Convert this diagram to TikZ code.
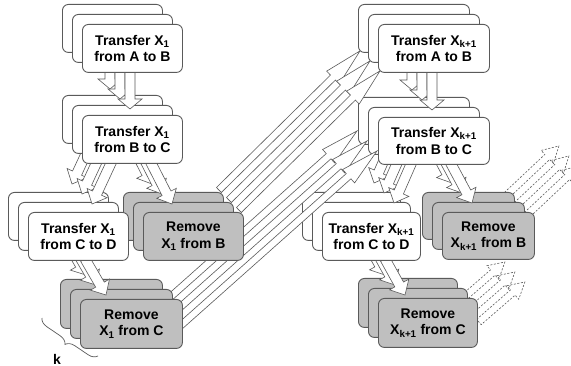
\documentclass[tikz,border=0pt]{standalone}
\usepackage{fontspec}
\setmainfont{Liberation Sans}
\usetikzlibrary{calc,decorations.pathreplacing}
\definecolor{edgegray}{HTML}{5A5A5A}
\definecolor{fillgray}{HTML}{BFBFBF}
\pgfdeclarelayer{bg}
\pgfdeclarelayer{arrc}\pgfdeclarelayer{boxc}
\pgfdeclarelayer{arrb}\pgfdeclarelayer{boxb}
\pgfdeclarelayer{arra}\pgfdeclarelayer{boxa}
\pgfsetlayers{bg,arrc,boxc,arrb,boxb,arra,boxa,main}
% block arrow: style, from, to, shaft half width, head half width, head length
\newcommand\blockarr[6]{%
  \coordinate (bP) at ($(#3)!#6!(#2)$);
  \draw[#1] ($(#2)!#4!90:(#3)$) -- ($(bP)!#4!90:(#3)$) -- ($(bP)!#5!90:(#3)$) -- (#3)
    -- ($(bP)!#5!-90:(#3)$) -- ($(bP)!#4!-90:(#3)$) -- ($(#2)!#4!-90:(#3)$) -- cycle;}
\tikzset{
  box/.style={draw=edgegray, line width=0.9pt, rounded corners=6pt, anchor=north west,
    inner sep=0pt, align=center, font=\fontsize{14}{16.5}\selectfont\bfseries},
  wbox/.style={box, fill=white},
  gbox/.style={box, fill=fillgray},
  barrowst/.style={draw=edgegray, fill=white, line width=0.6pt, line join=miter},
  dbarrowst/.style={draw=edgegray, dash pattern=on 2pt off 1.6pt, line width=0.6pt, line join=miter},
}
\begin{document}
\begin{tikzpicture}[x=1pt,y=-1pt]
\useasboundingbox (0,0) rectangle (571,366);
\begin{pgfonlayer}{bg}
\fill[white] (0,0) rectangle (571,366);
\end{pgfonlayer}
\foreach \s/\L/\v in {20/c/0,10/b/0,0/a/1}{
  \begin{pgfonlayer}{box\L}
    \node[wbox, minimum width=100pt, minimum height=48pt] (t1\L) at (82-\s,24-\s) {\ifnum\v=1 Transfer X\textsubscript{1}\\from A to B\fi};
    \node[wbox, minimum width=100pt, minimum height=48pt] (t2\L) at (82-\s,115-\s) {\ifnum\v=1 Transfer X\textsubscript{1}\\from B to C\fi};
    \node[wbox, minimum width=100pt, minimum height=48pt] (t3\L) at (28-\s,212-\s) {\ifnum\v=1 Transfer X\textsubscript{1}\\from C to D\fi};
    \node[gbox, minimum width=100pt, minimum height=48pt] (r1\L) at (143-\s,212-\s) {\ifnum\v=1 Remove\\X\textsubscript{1} from B\fi};
    \node[gbox, minimum width=102pt, minimum height=49pt] (r2\L) at (80-\s,299-\s) {\ifnum\v=1 Remove\\X\textsubscript{1} from C\fi};
    \node[wbox, minimum width=111pt, minimum height=48pt] (u1\L) at (378-\s,24-\s) {\ifnum\v=1 Transfer X\textsubscript{k+1}\\from A to B\fi};
    \node[wbox, minimum width=111pt, minimum height=47pt] (u2\L) at (378-\s,117-\s) {\ifnum\v=1 Transfer X\textsubscript{k+1}\\from B to C\fi};
    \node[wbox, minimum width=98pt, minimum height=48pt] (u3\L) at (322-\s,212-\s) {\ifnum\v=1 Transfer X\textsubscript{k+1}\\from C to D\fi};
    \node[gbox, minimum width=92pt, minimum height=47pt] (v1\L) at (442-\s,212-\s) {\ifnum\v=1 Remove\\X\textsubscript{k+1} from B\fi};
    \node[gbox, minimum width=99pt, minimum height=49pt] (v2\L) at (378-\s,298-\s) {\ifnum\v=1 Remove\\X\textsubscript{k+1} from C\fi};
  \end{pgfonlayer}
  \begin{pgfonlayer}{arr\L}
    % left column
    \coordinate (p1\L) at ($(t1\L.south west)+(48,-2)$);
    \coordinate (q1\L) at ($(t2\L.north west)+(48,-6)$);
    \blockarr{barrowst}{p1\L}{q1\L}{5pt}{12pt}{10pt}
    \coordinate (p2\L) at ($(t2\L.south west)+(30,-3)$);
    \coordinate (q2\L) at ($(t3\L.north west)+(64,-8)$);
    \blockarr{barrowst}{p2\L}{q2\L}{5pt}{11pt}{12pt}
    \coordinate (p3\L) at ($(t2\L.south west)+(68,-3)$);
    \coordinate (q3\L) at ($(r1\L.north west)+(29,-8)$);
    \blockarr{barrowst}{p3\L}{q3\L}{5pt}{11pt}{12pt}
    \coordinate (p4\L) at ($(t3\L.south west)+(57,-2)$);
    \coordinate (q4\L) at ($(r2\L.north west)+(26,-4)$);
    \blockarr{barrowst}{p4\L}{q4\L}{5pt}{11pt}{12pt}
    % right column
    \coordinate (p5\L) at ($(u1\L.south west)+(54,-2)$);
    \coordinate (q5\L) at ($(u2\L.north west)+(54,-7)$);
    \blockarr{barrowst}{p5\L}{q5\L}{5pt}{12pt}{10pt}
    \coordinate (p6\L) at ($(u2\L.south west)+(34,-3)$);
    \coordinate (q6\L) at ($(u3\L.north west)+(72,-9)$);
    \blockarr{barrowst}{p6\L}{q6\L}{5pt}{11pt}{12pt}
    \coordinate (p7\L) at ($(u2\L.south west)+(72,-3)$);
    \coordinate (q7\L) at ($(v1\L.north west)+(30,-9)$);
    \blockarr{barrowst}{p7\L}{q7\L}{5pt}{11pt}{12pt}
    \coordinate (p8\L) at ($(u3\L.south west)+(63,-2)$);
    \coordinate (q8\L) at ($(v2\L.north west)+(27,-3)$);
    \blockarr{barrowst}{p8\L}{q8\L}{5pt}{11pt}{12pt}
    % long cross arrows
    \coordinate (p9\L) at ($(r1\L.north east)+(-5,-2)$);
    \coordinate (q9\L) at ($(u1\L.south west)+(2,-2)$);
    \blockarr{barrowst}{p9\L}{q9\L}{3.5pt}{9pt}{38pt}
    \coordinate (p10\L) at ($(r2\L.east)+(-6,5)$);
    \coordinate (q10\L) at ($(u2\L.west)+(-1,10)$);
    \blockarr{barrowst}{p10\L}{q10\L}{3.5pt}{9pt}{38pt}
    % dashed outgoing arrows
    \coordinate (p11\L) at ($(v1\L.north east)+(-8,3)$);
    \coordinate (q11\L) at ($(v1\L.north east)+(44,-46)$);
    \blockarr{dbarrowst}{p11\L}{q11\L}{3.5pt}{9pt}{16pt}
    \coordinate (p12\L) at ($(v2\L.north east)+(1,24)$);
    \coordinate (q12\L) at ($(v2\L.north east)+(47,-16)$);
    \blockarr{dbarrowst}{p12\L}{q12\L}{3.5pt}{9pt}{16pt}
  \end{pgfonlayer}
}
\coordinate (brA) at (98,356);
\coordinate (brB) at (42,318);
\draw[edgegray, line width=0.7pt, decorate, decoration={brace, amplitude=9pt}] (brA) -- (brB);
\node[font=\fontsize{14}{16}\selectfont\bfseries, inner sep=0pt] (klabel) at (57,359) {k};
\end{tikzpicture}
\end{document}
